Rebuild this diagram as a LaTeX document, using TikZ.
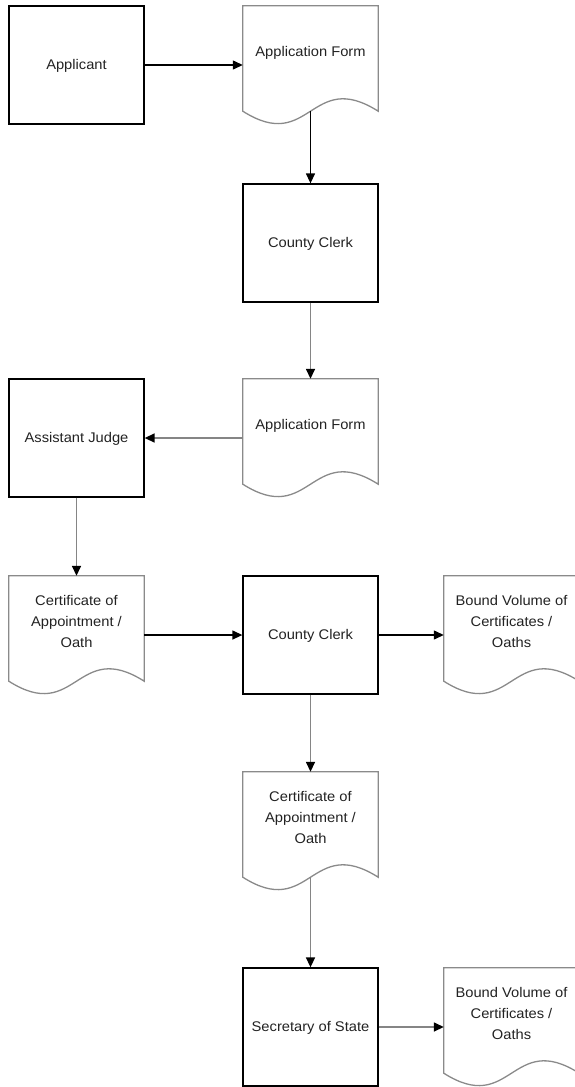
\documentclass[tikz,border=0pt]{standalone}
\usepackage{fontspec}
\setmainfont{Liberation Sans}[FakeStretch=1.05]
\usetikzlibrary{arrows.meta,calc}
\definecolor{docgray}{HTML}{8A8A8A}
\definecolor{linegray}{HTML}{858585}
\definecolor{txt}{HTML}{222222}
\newcommand{\lbl}[1]{\begin{tabular}{@{}c@{}}#1\end{tabular}}
\newcommand{\doclbl}[1]{\raisebox{12.5pt}[\height][\depth]{\lbl{#1}}}
\newcommand{\docwave}[1]{%
  \draw[docline] (#1.north west) -- (#1.north east) -- ($(#1.south east)+(0,13)$)
    .. controls ($(#1.south)+(0,56)$) and ($(#1.south)+(0,-30)$) .. ($(#1.south west)+(0,13)$) -- cycle;
  \coordinate (#1-b) at ($(#1.south)+(0,13)$);}
\begin{document}
\begin{tikzpicture}[x=1pt,y=1pt,
  font=\fontsize{14}{21}\selectfont,
  proc/.style={draw=black, line width=1.3pt, minimum width=135pt, minimum height=118pt, inner sep=0pt, text=txt},
  doc/.style={draw=none, minimum width=135pt, minimum height=118pt, inner sep=0pt, text=txt},
  docline/.style={draw=docgray, line width=1.3pt, line join=miter},
  arr/.style={line width=1.3pt, draw=black, -{Triangle[length=10pt,width=9pt]}},
  garr/.style={line width=1.5pt, draw=linegray, -{Triangle[length=10pt,width=9pt,color=black]}}]
\useasboundingbox (0,0) rectangle (575,-1087);

\node[proc] (app) at (76.5,-65) {\lbl{Applicant}};
\node[doc] (af1) at (310.5,-65) {\doclbl{Application Form}};
\node[proc] (cc1) at (310.5,-243) {\lbl{County Clerk}};
\node[doc] (af2) at (310.5,-438) {\doclbl{Application Form}};
\node[proc] (aj) at (76.5,-438) {\lbl{Assistant Judge}};
\node[doc] (cert1) at (76.5,-635) {\doclbl{Certificate of\\Appointment /\\Oath}};
\node[proc] (cc2) at (310.5,-635) {\lbl{County Clerk}};
\node[doc] (bv1) at (511.5,-635) {\doclbl{Bound Volume of\\Certificates /\\Oaths}};
\node[doc] (cert2) at (310.5,-831) {\doclbl{Certificate of\\Appointment /\\Oath}};
\node[proc] (sos) at (310.5,-1027) {\lbl{Secretary of State}};
\node[doc] (bv2) at (511.5,-1027) {\doclbl{Bound Volume of\\Certificates /\\Oaths}};

\docwave{af1}
\docwave{af2}
\docwave{cert1}
\docwave{bv1}
\docwave{cert2}
\docwave{bv2}

\draw[arr] (app) -- (af1);
\draw[arr] (af1-b) -- (cc1);
\draw[garr] (cc1) -- (af2);
\draw[garr] (af2) -- (aj);
\draw[garr] (aj) -- (cert1);
\draw[arr] (cert1) -- (cc2);
\draw[arr] (cc2) -- (bv1);
\draw[garr] (cc2) -- (cert2);
\draw[garr] (cert2-b) -- (sos);
\draw[garr] (sos) -- (bv2);
\end{tikzpicture}
\end{document}
